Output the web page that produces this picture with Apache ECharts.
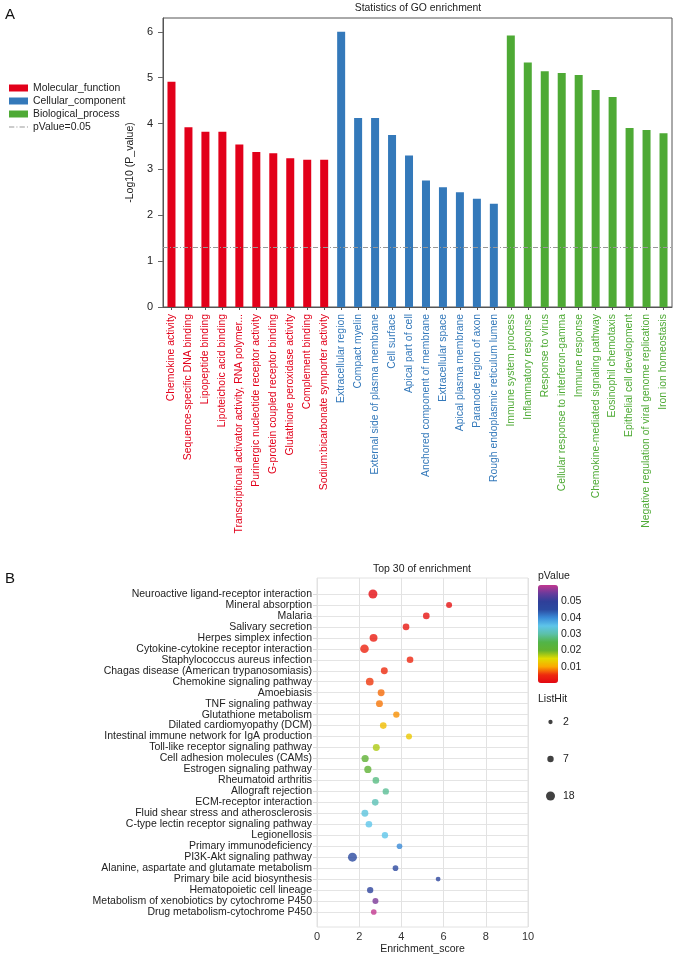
<!DOCTYPE html>
<html><head><meta charset="utf-8">
<script src="https://cdn.jsdelivr.net/npm/echarts@6/dist/echarts.min.js"></script>
<style>html,body{margin:0;padding:0;background:#fff}#c{width:677px;height:958px}</style>
</head><body><div id="c"></div>
<script>
// ---------- Panel A data ----------
const mfTerms = ['Chemokine activity','Sequence-specific DNA binding','Lipopeptide binding','Lipoteichoic acid binding','Transcriptional activator activity, RNA polymer...','Purinergic nucleotide receptor activity','G-protein coupled receptor binding','Glutathione peroxidase activity','Complement binding','Sodium:bicarbonate symporter activity'];
const mfValues = [4.91,3.92,3.82,3.82,3.54,3.38,3.35,3.24,3.21,3.21];
const ccTerms = ['Extracellular region','Compact myelin','External side of plasma membrane','Cell surface','Apical part of cell','Anchored component of membrane','Extracellular space','Apical plasma membrane','Paranode region of axon','Rough endoplasmic reticulum lumen'];
const ccValues = [6.0,4.12,4.12,3.75,3.30,2.76,2.61,2.50,2.36,2.25];
const bpTerms = ['Immune system process','Inflammatory response','Response to virus','Cellular response to interferon-gamma','Immune response','Chemokine-mediated signaling pathway','Eosinophil chemotaxis','Epithelial cell development','Negative regulation of viral genome replication','Iron ion homeostasis'];
const bpValues = [5.92,5.33,5.14,5.10,5.06,4.73,4.58,3.90,3.86,3.79];
const pThreshold = 0.05;
const goTicks = [0,1,2,3,4,5,6];

// ---------- Panel B data ----------
const keggTerms = ['Neuroactive ligand-receptor interaction','Mineral absorption','Malaria','Salivary secretion','Herpes simplex infection','Cytokine-cytokine receptor interaction','Staphylococcus aureus infection','Chagas disease (American trypanosomiasis)','Chemokine signaling pathway','Amoebiasis','TNF signaling pathway','Glutathione metabolism','Dilated cardiomyopathy (DCM)','Intestinal immune network for IgA production','Toll-like receptor signaling pathway','Cell adhesion molecules (CAMs)','Estrogen signaling pathway','Rheumatoid arthritis','Allograft rejection','ECM-receptor interaction','Fluid shear stress and atherosclerosis','C-type lectin receptor signaling pathway','Legionellosis','Primary immunodeficiency','PI3K-Akt signaling pathway','Alanine, aspartate and glutamate metabolism','Primary bile acid biosynthesis','Hematopoietic cell lineage','Metabolism of xenobiotics by cytochrome P450','Drug metabolism-cytochrome P450'];
const keggScore = [2.65,6.26,5.18,4.22,2.68,2.25,4.41,3.19,2.50,3.04,2.96,3.76,3.14,4.36,2.81,2.28,2.41,2.79,3.26,2.76,2.27,2.46,3.22,3.91,1.68,3.72,5.74,2.52,2.77,2.69];
const keggHits = [18,6,8,8,13,16,8,9,12,9,9,7,8,6,9,10,10,8,7,8,9,8,7,5,18,5,3,7,6,5];
const keggP = [0.001,0.0015,0.002,0.0025,0.003,0.004,0.0045,0.005,0.0055,0.0075,0.008,0.009,0.012,0.013,0.017,0.021,0.021,0.028,0.029,0.031,0.034,0.035,0.035,0.040,0.045,0.046,0.047,0.048,0.056,0.060];
const pLegendTicks = [0.01,0.02,0.03,0.04,0.05];
const hitLegend = [2,7,18];

const FONT = 'Liberation Sans, Arial, sans-serif';
const RED='#e2001a', BLUE='#3479ba', GREEN='#4eaa35';
const termColor = {};
mfTerms.forEach(t=>termColor[t]=RED); ccTerms.forEach(t=>termColor[t]=BLUE); bpTerms.forEach(t=>termColor[t]=GREEN);
const goCategories = [...mfTerms, ...ccTerms, ...bpTerms];
const sizeOf = n => 1.95 + 1.66*Math.sqrt(n);
const dashIcon = 'path://M0,0H5V1H0Z M7,0H8V1H7Z M10,0H15V1H10Z M17,0H18V1H17Z';

const chart = echarts.init(document.getElementById('c'), null, {renderer:'canvas'});
const option = {
  animation:false,
  textStyle:{fontFamily:FONT},
  grid:[
    {left:163, right:5, top:18, bottom:651, show:true, borderColor:'#555', borderWidth:1},
    {left:317, right:149, top:578, bottom:31, show:true, borderColor:'#e2e2e2', borderWidth:1},
    {left:317, right:149, top:594, bottom:46},
    {left:538, width:20, top:585, height:98},
    {left:545, width:11, top:722, height:74}
  ],
  legend:{orient:'vertical', left:4, top:78, itemWidth:19, itemHeight:7, itemGap:3,
    textStyle:{fontSize:10.4, color:'#222', fontFamily:FONT},
    data:[{name:'Molecular_function',icon:'rect'},{name:'Cellular_component',icon:'rect'},{name:'Biological_process',icon:'rect'},
          {name:'pValue=0.05', icon:dashIcon, itemStyle:{color:'#999'}}]},
  xAxis:[
    {gridIndex:0, type:'category', data:goCategories, axisLine:{lineStyle:{color:'#555'}},
     axisTick:{show:true, alignWithLabel:true, length:3, lineStyle:{color:'#555'}},
     axisLabel:{interval:0, rotate:90, fontSize:10.4, margin:7, fontFamily:FONT, color:(v)=>termColor[v]}},
    {gridIndex:1, type:'value', min:0, max:10, interval:2, axisLine:{show:false}, axisTick:{show:false},
     splitLine:{lineStyle:{color:'#e2e2e2'}}, axisLabel:{fontSize:11, color:'#333', margin:4},
     name:'Enrichment_score', nameLocation:'middle', nameGap:17, nameTextStyle:{fontSize:10.5, color:'#222'}},
    {gridIndex:2, type:'value', min:0, max:10, show:false},
    {gridIndex:3, type:'value', show:false},
    {gridIndex:4, type:'value', min:-1, max:1, show:false}
  ],
  yAxis:[
    {gridIndex:0, type:'value', min:0, max:6.3, interval:1, axisLine:{show:true, lineStyle:{color:'#555'}},
     axisTick:{show:true, length:5, lineStyle:{color:'#666'}, customValues:goTicks}, splitLine:{show:false},
     axisLabel:{fontSize:11, color:'#222', margin:10, customValues:goTicks},
     name:'-Log10 (P_value)', nameLocation:'middle', nameGap:26, nameTextStyle:{fontSize:10.5, color:'#222'}},
    {gridIndex:1, type:'value', show:false},
    {gridIndex:2, type:'category', data:keggTerms, inverse:true, boundaryGap:false,
     axisLine:{show:false}, axisTick:{show:true, length:4, lineStyle:{color:'#d8d8d8'}},
     splitLine:{show:true, lineStyle:{color:'#e4e4e4'}},
     axisLabel:{interval:0, fontSize:10.5, color:'#222', margin:5}},
    {gridIndex:3, type:'value', min:0, max:0.06, position:'right', axisLine:{show:false}, axisTick:{show:false}, splitLine:{show:false},
     axisLabel:{customValues:pLegendTicks, formatter:v=>v.toFixed(2), fontSize:10.5, color:'#222', margin:3}},
    {gridIndex:4, type:'category', data:hitLegend.map(String), inverse:true, boundaryGap:false, position:'right',
     axisLine:{show:false}, axisTick:{show:false}, axisLabel:{fontSize:10.5, color:'#222', margin:7, align:'left'}}
  ],
  visualMap:{type:'continuous', min:0, max:0.06, dimension:3, seriesIndex:4, left:538, top:585, itemWidth:20, itemHeight:98,
    padding:0, calculable:false, text:null, showLabel:false,
    inRange:{color:['#e30613','#ee2a0e','#fba900','#e0dc00','#62b22f','#52b448','#5cc0a8','#5ec5ea','#3a8bd8','#2b4aa0','#2f3f99','#6a3b9c','#c2378f']}},
  series:[
    {name:'Molecular_function', type:'bar', xAxisIndex:0, yAxisIndex:0, barWidth:8, barGap:'-100%', itemStyle:{color:RED},
     data:mfTerms.map((t,i)=>[t,mfValues[i]]),
     markLine:{silent:true, symbol:'none', label:{show:false}, lineStyle:{type:[5,2,1,2], color:'#999', width:1}, data:[{yAxis:-Math.log10(pThreshold)}]}},
    {name:'Cellular_component', type:'bar', xAxisIndex:0, yAxisIndex:0, barWidth:8, barGap:'-100%', itemStyle:{color:BLUE},
     data:ccTerms.map((t,i)=>[t,ccValues[i]])},
    {name:'Biological_process', type:'bar', xAxisIndex:0, yAxisIndex:0, barWidth:8, barGap:'-100%', itemStyle:{color:GREEN},
     data:bpTerms.map((t,i)=>[t,bpValues[i]])},
    {name:'pValue=0.05', type:'line', xAxisIndex:0, yAxisIndex:0, symbol:'none', data:[], lineStyle:{type:[5,2,1,2], color:'#999', width:1}, itemStyle:{color:'#999'}},
    {name:'KEGG', type:'scatter', xAxisIndex:2, yAxisIndex:2,
     data:keggTerms.map((t,i)=>[keggScore[i], t, keggHits[i], keggP[i]]),
     encode:{x:0, y:1}, symbolSize:v=>sizeOf(v[2])},
    {name:'ListHit', type:'scatter', xAxisIndex:4, yAxisIndex:4, itemStyle:{color:'#111'},
     data:hitLegend.map(h=>[0, String(h), h]), encode:{x:0,y:1}, symbolSize:v=>sizeOf(v[2])}
  ],
  graphic:[
    {type:'text', left:5, top:7, style:{text:'A', fontSize:15, fill:'#111', fontFamily:FONT}},
    {type:'text', left:5, top:571, style:{text:'B', fontSize:15, fill:'#111', fontFamily:FONT}},
    {type:'text', x:418, y:8, style:{text:'Statistics of GO enrichment', fontSize:10.4, fill:'#222', fontFamily:FONT, align:'center', verticalAlign:'middle'}},
    {type:'text', x:422, y:569, style:{text:'Top 30 of enrichment', fontSize:10.5, fill:'#222', fontFamily:FONT, align:'center', verticalAlign:'middle'}},
    {type:'text', x:538, y:576, style:{text:'pValue', fontSize:10.5, fill:'#222', fontFamily:FONT, verticalAlign:'middle'}},
    {type:'text', x:538, y:699, style:{text:'ListHit', fontSize:10.5, fill:'#222', fontFamily:FONT, verticalAlign:'middle'}}
  ]
};
chart.setOption(option);
</script></body></html>
